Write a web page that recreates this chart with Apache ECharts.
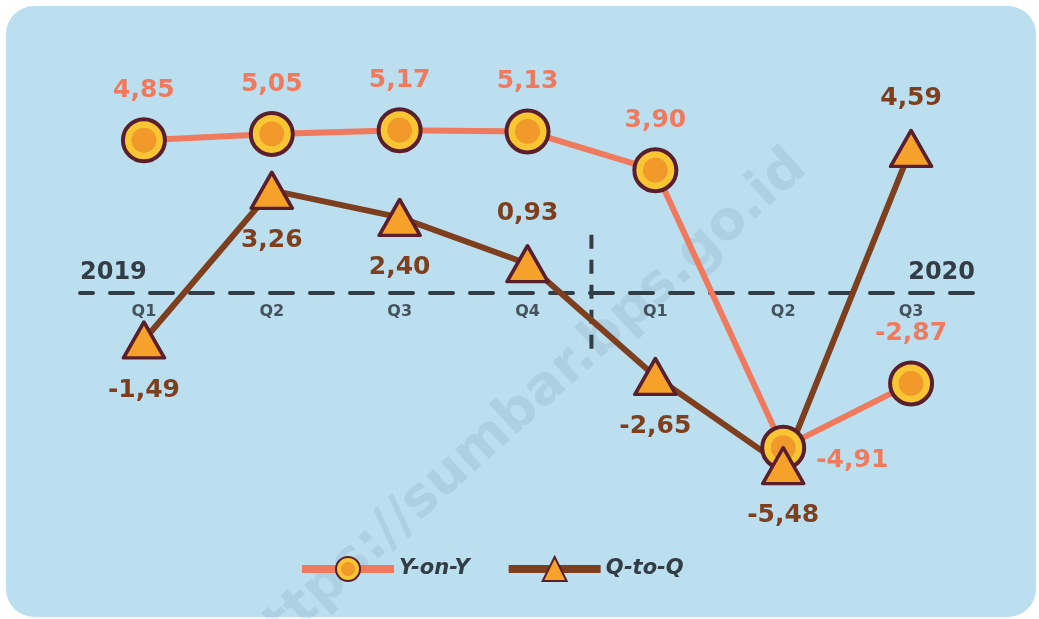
<!DOCTYPE html>
<html>
<head>
<meta charset="utf-8">
<script src="https://cdn.jsdelivr.net/npm/echarts@6/dist/echarts.min.js"></script>
<style>
  html, body { margin: 0; padding: 0; background: #fff; }
  #chart { width: 1039px; height: 619px; }
</style>
</head>
<body>
<div id="chart"></div>
<script>
// data
var categories = ['Q1', 'Q2', 'Q3', 'Q4', 'Q1', 'Q2', 'Q3']
var yoyValues = [4.85, 5.05, 5.17, 5.13, 3.90, -4.91, -2.87]
var qtqValues = [-1.49, 3.26, 2.40, 0.93, -2.65, -5.48, 4.59]
var yearLabels = ['2019', '2020']
var seriesNames = ['Y-on-Y', 'Q-to-Q']

var FONT = 'DejaVu Sans'
var dark = '#333d47'
var salmon = '#ef7a5e'
var brown = '#7e3f1f'
var rim = '#5a1f2c'

// label placement per point (style only)
var yoyLabelPos = ['top', 'top', 'top', 'top', 'top', 'right', 'top']
var qtqLabelPos = ['bottom', 'bottom', 'bottom', 'top', 'bottom', 'bottom', 'top']

function fmt (v) {
  return v.toFixed(2).replace('.', ',')
}

var coinFill = {
  type: 'radial', x: 0.5, y: 0.5, r: 0.5,
  colorStops: [
    { offset: 0, color: '#f2992c' },
    { offset: 0.52, color: '#f2992c' },
    { offset: 0.56, color: '#f9c532' },
    { offset: 1, color: '#f9c532' }
  ]
}

var yoyPoints = yoyValues.map(function (v, i) {
  var lbl = { position: yoyLabelPos[i] }
  if (yoyLabelPos[i] === 'right') { lbl.offset = [0, 13]; lbl.distance = 10 }
  return { value: v, label: lbl }
})
var qtqPoints = qtqValues.map(function (v, i) {
  return { value: v, label: { position: qtqLabelPos[i] } }
})
// quarter names sit just under the zero line
var quarterPoints = categories.map(function (c, i) { return [i, 0] })

var chart = echarts.init(document.getElementById('chart'))

var option = {
  animation: false,
  grid: { left: 80, right: 64, top: 104, bottom: 74 },
  legend: {
    data: seriesNames,
    left: 293,
    top: 551,
    itemWidth: 92,
    itemHeight: 30,
    itemGap: 35,
    lineStyle: { width: 8 },
    textStyle: { color: dark, fontSize: 21, fontWeight: 'bold', fontStyle: 'italic', fontFamily: FONT }
  },
  xAxis: {
    type: 'category',
    data: categories,
    boundaryGap: true,
    axisLine: {
      onZero: true,
      lineStyle: { color: dark, width: 4, type: [23, 17], dashOffset: 10 }
    },
    axisTick: { show: false },
    axisLabel: { show: false },
    splitLine: { show: false }
  },
  yAxis: {
    type: 'value',
    min: -8,
    max: 6,
    interval: 1,
    show: false,
    splitLine: { show: false }
  },
  series: [
    {
      name: seriesNames[0],
      type: 'line',
      data: yoyValues,
      z: 2,
      showSymbol: false,
      symbol: 'circle',
      lineStyle: { color: salmon, width: 6 },
      itemStyle: { color: coinFill, borderColor: rim, borderWidth: 3 }
    },
    {
      name: seriesNames[1],
      type: 'line',
      data: qtqValues,
      z: 2,
      showSymbol: false,
      symbol: 'triangle',
      lineStyle: { color: brown, width: 6 },
      itemStyle: { color: '#f6a12a', borderColor: rim, borderWidth: 3 }
    },
    {
      name: 'quarters',
      type: 'scatter',
      data: quarterPoints,
      z: 1,
      silent: true,
      symbolSize: 1,
      itemStyle: { color: 'rgba(0,0,0,0)' },
      label: {
        show: true,
        position: 'bottom',
        distance: 10,
        color: '#27303a',
        fontSize: 16,
        fontWeight: 'bold',
        fontFamily: FONT,
        formatter: function (p) { return categories[p.dataIndex] }
      }
    },
    {
      name: seriesNames[0],
      type: 'scatter',
      data: yoyPoints,
      z: 3,
      symbol: 'circle',
      symbolSize: 42,
      itemStyle: { color: coinFill, borderColor: rim, borderWidth: 4, opacity: 1 },
      label: {
        show: true,
        distance: 14,
        color: salmon,
        fontSize: 25,
        fontWeight: 'bold',
        fontFamily: FONT,
        formatter: function (p) { return fmt(p.value) }
      },
      emphasis: { disabled: true }
    },
    {
      name: seriesNames[1],
      type: 'scatter',
      data: qtqPoints,
      z: 4,
      symbol: 'triangle',
      symbolSize: [41, 36],
      itemStyle: { color: '#f6a12a', borderColor: rim, borderWidth: 3.5, borderJoin: 'round', opacity: 1 },
      label: {
        show: true,
        distance: 18,
        color: brown,
        fontSize: 25,
        fontWeight: 'bold',
        fontFamily: FONT,
        formatter: function (p) { return fmt(p.value) }
      },
      emphasis: { disabled: true }
    }
  ]
}

chart.setOption(option)

// decorations placed from the axes
var zeroY = chart.convertToPixel({ yAxisIndex: 0 }, 0)
var q4x = chart.convertToPixel({ xAxisIndex: 0 }, 3)
var q1x = chart.convertToPixel({ xAxisIndex: 0 }, 4)
var splitX = (q4x + q1x) / 2
var topY = chart.convertToPixel({ yAxisIndex: 0 }, 1.85)
var botY = chart.convertToPixel({ yAxisIndex: 0 }, -1.95)
var gridRect = { left: 80, right: 1039 - 64 }

chart.setOption({
  graphic: [
    {
      type: 'rect', z: -10, silent: true,
      shape: { x: 6, y: 6, width: 1030, height: 611, r: 28 },
      style: { fill: '#bcdff0' }
    },
    {
      type: 'text', z: -5, silent: true,
      x: 522, y: 410, rotation: 42 * Math.PI / 180,
      style: {
        text: 'https://sumbar.bps.go.id',
        fill: 'rgba(70,110,140,0.12)',
        font: 'bold 54px "DejaVu Sans"',
        align: 'center', verticalAlign: 'middle'
      }
    },
    {
      type: 'line', silent: true,
      shape: { x1: splitX, y1: topY, x2: splitX, y2: botY },
      style: { stroke: dark, lineWidth: 4, lineDash: [14, 11] }
    },
    {
      type: 'text', silent: true,
      x: gridRect.left, y: zeroY - 8,
      style: {
        text: yearLabels[0], fill: dark, font: 'bold 24px "DejaVu Sans"',
        align: 'left', verticalAlign: 'bottom'
      }
    },
    {
      type: 'text', silent: true,
      x: gridRect.right, y: zeroY - 8,
      style: {
        text: yearLabels[1], fill: dark, font: 'bold 24px "DejaVu Sans"',
        align: 'right', verticalAlign: 'bottom'
      }
    }
  ]
})
</script>
</body>
</html>
